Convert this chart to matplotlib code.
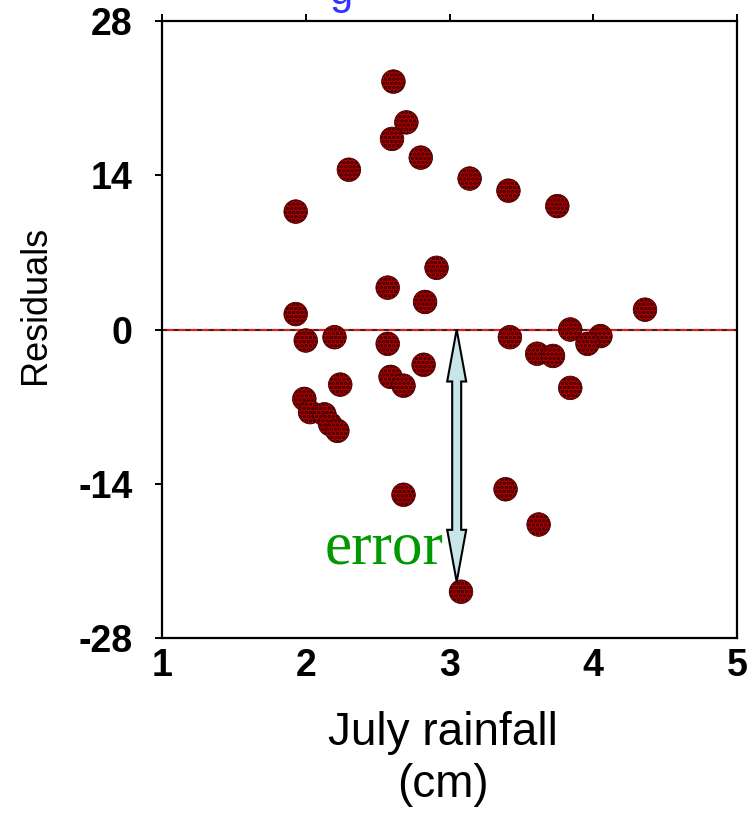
import matplotlib
matplotlib.use("Agg")
import matplotlib.pyplot as plt
from matplotlib.patches import Polygon

# July rainfall (cm) vs residuals
rainfall = [2.61, 2.70, 2.60, 2.80, 2.30, 3.14, 3.41, 1.93, 3.75, 2.91,
            2.57, 2.83, 1.93, 4.36, 2.00, 2.20, 2.57, 3.42, 3.84, 4.05,
            3.96, 3.61, 3.72, 2.82, 2.59, 2.68, 2.24, 3.84, 1.99, 2.03,
            2.13, 2.17, 2.22, 2.68, 3.39, 3.62, 3.08]
residuals = [22.5, 18.8, 17.3, 15.6, 14.5, 13.7, 12.6, 10.7, 11.2, 5.6,
             3.8, 2.5, 1.4, 1.8, -1.0, -0.7, -1.3, -0.7, 0.0, -0.6,
             -1.3, -2.2, -2.4, -3.2, -4.3, -5.1, -5.0, -5.3, -6.3, -7.5,
             -7.7, -8.6, -9.2, -15.0, -14.5, -17.7, -23.8]

x_ticks = [1, 2, 3, 4, 5]
y_ticks = [-28, -14, 0, 14, 28]

# the "error" arrow: from the fitted line down to one observation
err_x = 3.05
err_top = 0.0
err_bottom = -22.9

W, H = 753, 816
fig = plt.figure(figsize=(W / 100, H / 100), dpi=100)
ax_left, ax_right, ax_bottom, ax_top = 162 / W, 737 / W, 1 - 638 / H, 1 - 21 / H
ax = fig.add_axes([ax_left, ax_bottom, ax_right - ax_left, ax_top - ax_bottom])
ax.set_xlim(1, 5)
ax.set_ylim(-28, 28)

# zero line: red with black dashes on top
ax.axhline(0, color='#e02020', lw=1.6, zorder=2)
ax.axhline(0, color='#222222', lw=1.2, ls=(0, (3, 4)), zorder=2)

plt.rcParams['hatch.color'] = 'black'
plt.rcParams['hatch.linewidth'] = 1.8
ax.scatter(rainfall, residuals, s=290, facecolor='#b00000', edgecolor='#300000',
           linewidths=0.5, hatch='....', zorder=4)

# double headed arrow, drawn as a polygon (sizes in pixels)
px_x = (ax_right - ax_left) * W / 4
px_y = (ax_top - ax_bottom) * H / 56
sw, hw, hl = 4.5 / px_x, 9.5 / px_x, 52 / px_y
verts = [
    (err_x, err_top),
    (err_x + hw, err_top - hl),
    (err_x + sw, err_top - hl),
    (err_x + sw, err_bottom + hl),
    (err_x + hw, err_bottom + hl),
    (err_x, err_bottom),
    (err_x - hw, err_bottom + hl),
    (err_x - sw, err_bottom + hl),
    (err_x - sw, err_top - hl),
    (err_x - hw, err_top - hl),
]
ax.add_patch(Polygon(verts, closed=True, facecolor='#c8e6ea', edgecolor='black',
                     lw=1.5, zorder=5))
ax.text(err_x - 13 / px_x, -21.2, 'error', color='#009900', family='Liberation Serif',
        fontsize=44, ha='right', va='baseline', zorder=6)

for s in ax.spines.values():
    s.set_linewidth(1.6)

tick_font = {'family': 'Liberation Sans', 'weight': 'bold', 'size': 27}
ax.set_xticks(x_ticks)
ax.set_xticklabels([str(v) for v in x_ticks], fontdict=tick_font)
ax.set_yticks(y_ticks)
ax.set_yticklabels([str(v) for v in y_ticks], fontdict=tick_font)
ax.tick_params(axis='x', top=True, bottom=False, direction='out', length=5, width=1.4, pad=2)
ax.tick_params(axis='y', left=True, right=False, direction='out', length=5, width=1.4, pad=16)
ax.get_yticklines()[4].set_color('#e02020')

fig.text(36 / W, 1 - 305 / H, 'Residuals', rotation=90, fontsize=26,
         family='Liberation Sans', ha='center', va='center')
fig.text(443 / W, 1 - 745 / H, 'July rainfall', fontsize=33,
         family='Liberation Sans', ha='center', va='baseline')
fig.text(443 / W, 1 - 797 / H, '(cm)', fontsize=33,
         family='Liberation Sans', ha='center', va='baseline')
# bottom of a cut-off blue heading above the chart
fig.text(341 / W, 1 - 4 / H, 'g', color='#3333ff', fontsize=30,
         family='Liberation Sans', ha='center', va='baseline')

fig.savefig('out.png', dpi=100)
